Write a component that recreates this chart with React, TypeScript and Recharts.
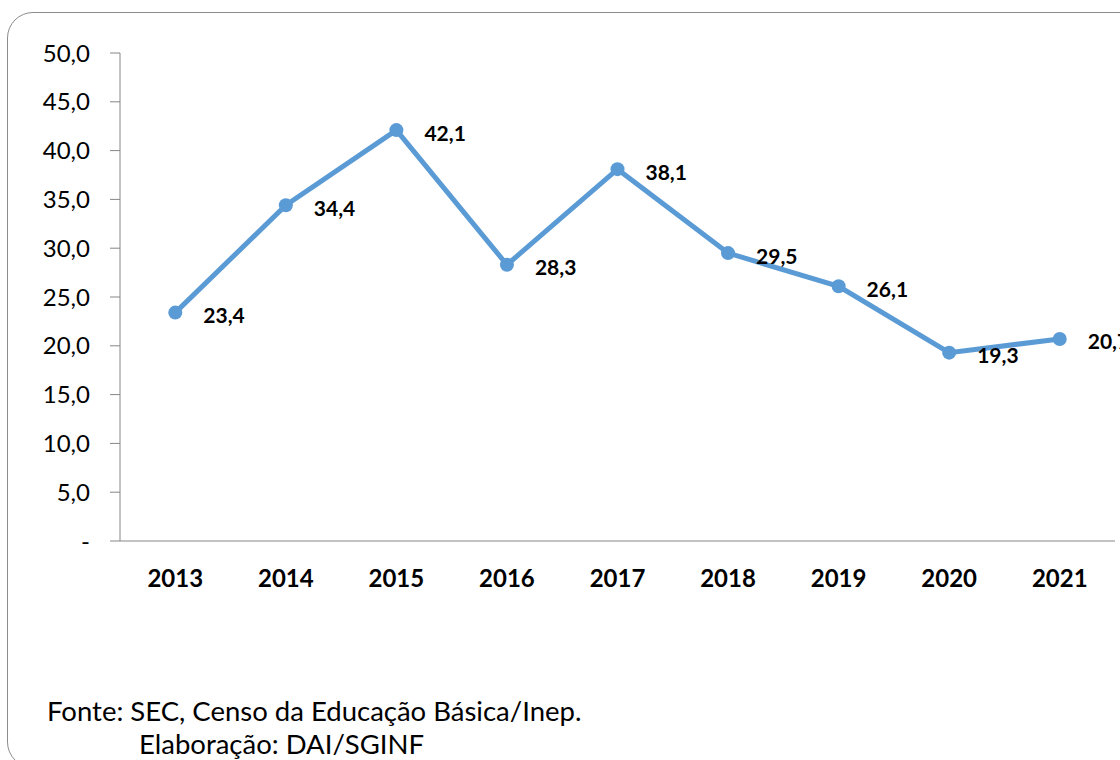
import React from 'react';
import { LineChart, Line, XAxis, YAxis, LabelList } from 'recharts';

const years = ['2013', '2014', '2015', '2016', '2017', '2018', '2019', '2020', '2021'];
const values = [23.4, 34.4, 42.1, 28.3, 38.1, 29.5, 26.1, 19.3, 20.7];
const yTicks = [0, 5, 10, 15, 20, 25, 30, 35, 40, 45, 50];
const sourceLines = ['Fonte: SEC, Censo da Educação Básica/Inep.', 'Elaboração: DAI/SGINF'];

const FONT = 'Lato, "Noto Sans", sans-serif';
const LINE_COLOR = '#5B9BD5';
const AXIS_COLOR = '#868686';

const fmt = (v: number) => (v === 0 ? '-' : v.toFixed(1).replace('.', ','));

// categories sit in the middle of each band, ticks go on band edges
const data = years.map((year, i) => ({ x: i + 0.5, year, value: values[i] }));
const bandEdges = years.map((_, i) => i).concat(years.length);
const bandCenters = years.map((_, i) => i + 0.5);

const renderLabel = (props: any) => {
  const { x, y, value } = props;
  return (
    <text
      x={x + 28}
      y={y + 2}
      dominantBaseline="central"
      textAnchor="start"
      fontFamily={FONT}
      fontWeight="bold"
      fontSize={21}
      fill="#000"
    >
      {fmt(value)}
    </text>
  );
};

const App: React.FC = () => {
  return (
    <div
      style={{
        position: 'fixed',
        left: 0,
        top: 0,
        width: 1120,
        height: 760,
        overflow: 'hidden',
        background: '#fff',
        fontFamily: FONT,
      }}
    >
      {/* rounded frame, runs off the right and bottom edges */}
      <div
        style={{
          position: 'absolute',
          left: 7,
          top: 12,
          width: 1200,
          height: 754,
          border: '1.5px solid #8c8c8c',
          borderRadius: 26,
        }}
      />
      <div style={{ position: 'absolute', left: 0, top: 0 }}>
        <LineChart width={1120} height={640} data={data} margin={{ top: 53, right: 5, left: 0, bottom: 0 }}>
          <YAxis
            width={120}
            domain={[0, 50]}
            ticks={yTicks}
            interval={0}
            tickFormatter={fmt}
            tickSize={10}
            tickMargin={20}
            stroke={AXIS_COLOR}
            tick={{ fill: '#000', fontSize: 24, fontFamily: FONT }}
          />
          <XAxis
            xAxisId="edges"
            dataKey="x"
            type="number"
            domain={[0, years.length]}
            ticks={bandEdges}
            interval={0}
            tick={false}
            tickSize={8}
            height={10}
            stroke={AXIS_COLOR}
          />
          <XAxis
            xAxisId="labels"
            dataKey="x"
            type="number"
            domain={[0, years.length]}
            ticks={bandCenters}
            interval={0}
            axisLine={false}
            tickLine={false}
            tickSize={0}
            tickMargin={19}
            height={89}
            tickFormatter={(v: number) => years[Math.floor(v)]}
            tick={{ fill: '#000', fontSize: 24, fontWeight: 'bold', fontFamily: FONT }}
          />
          <Line
            xAxisId="labels"
            type="linear"
            dataKey="value"
            stroke={LINE_COLOR}
            strokeWidth={5}
            dot={{ r: 7, fill: LINE_COLOR, stroke: LINE_COLOR, strokeWidth: 0 }}
            isAnimationActive={false}
          >
            <LabelList dataKey="value" content={renderLabel} />
          </Line>
        </LineChart>
      </div>
      <div style={{ position: 'absolute', left: 47, top: 695, fontSize: 27.5, lineHeight: '32px', color: '#000' }}>
        {sourceLines[0]}
      </div>
      <div style={{ position: 'absolute', left: 139, top: 728, fontSize: 27.5, lineHeight: '32px', color: '#000' }}>
        {sourceLines[1]}
      </div>
    </div>
  );
};

export default App;
